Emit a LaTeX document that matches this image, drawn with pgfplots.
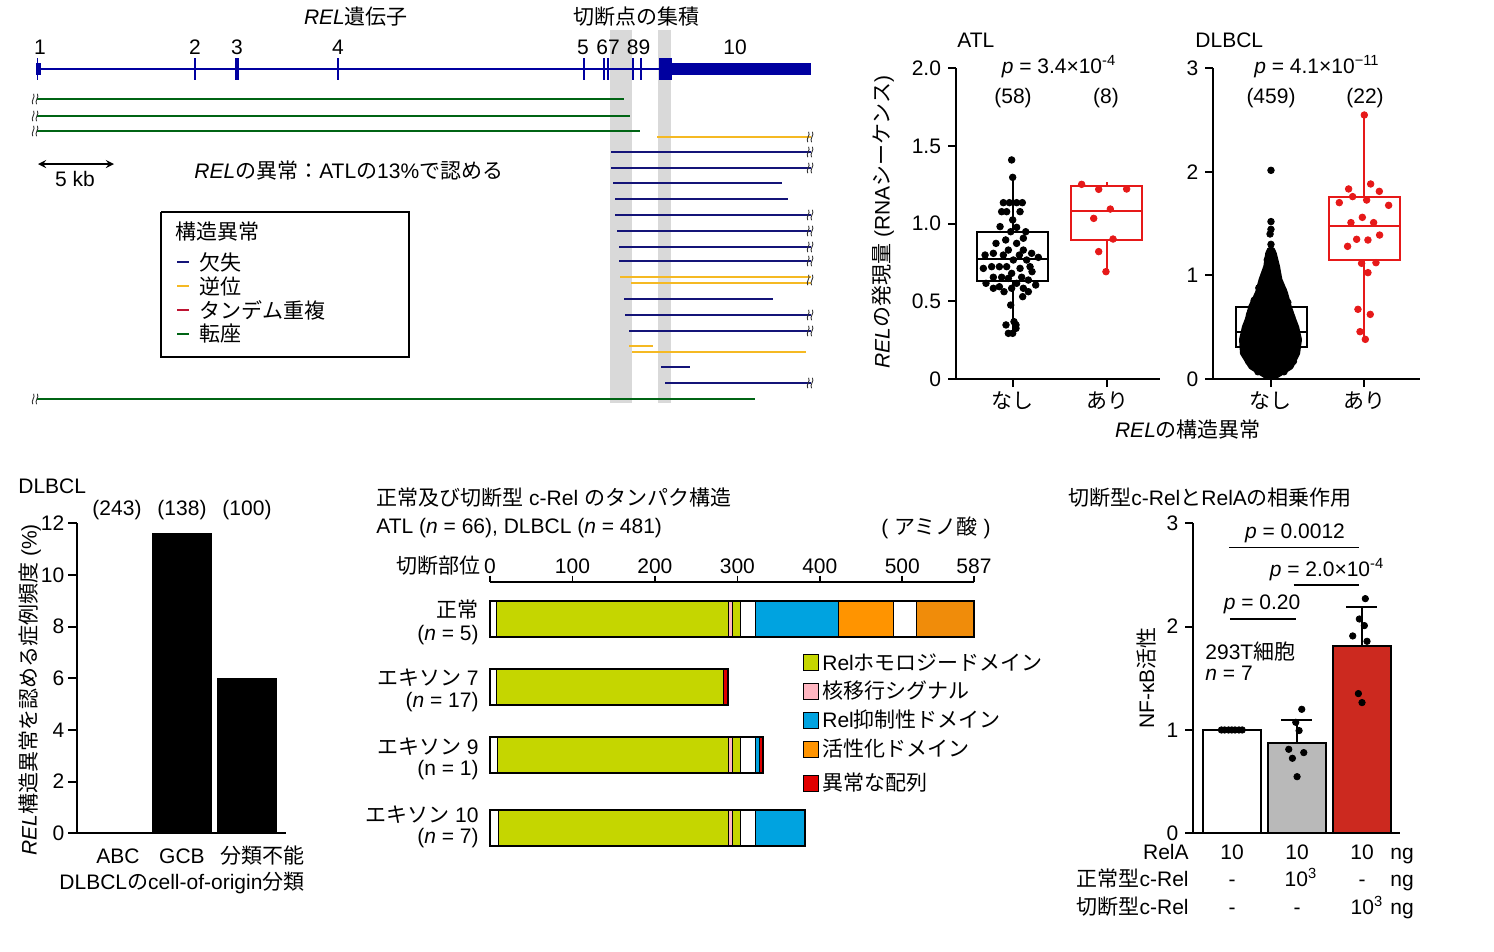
\documentclass[border=0pt]{standalone}
\usepackage{fontspec}
\setmainfont{Liberation Sans}
\newfontfamily\jp{Noto Sans CJK JP}
\usepackage{pgfplots}
\pgfplotsset{compat=1.18}
\newcommand\fs{\fontsize{10.5}{12.6}\selectfont}
\definecolor{geneblue}{RGB}{0,0,160}
\definecolor{navy}{RGB}{20,20,120}
\definecolor{inv}{RGB}{245,185,35}
\definecolor{trans}{RGB}{0,100,20}
\definecolor{tand}{RGB}{190,20,50}
\definecolor{bandgray}{RGB}{217,217,217}
\definecolor{boxred}{RGB}{230,25,25}
\definecolor{relgreen}{RGB}{197,214,0}
\definecolor{nlspink}{RGB}{255,182,193}
\definecolor{inhblue}{RGB}{0,163,224}
\definecolor{actor}{RGB}{255,148,0}
\definecolor{actor2}{RGB}{240,140,10}
\definecolor{abnred}{RGB}{225,0,0}
\definecolor{barred}{RGB}{204,41,31}
\definecolor{bargray}{RGB}{185,185,185}
\pgfdeclareplotmark{brk}{%
  \pgfpathmoveto{\pgfqpoint{-1.6pt}{-2.6pt}}%
  \pgfpathcurveto{\pgfqpoint{-2.8pt}{-0.9pt}}{\pgfqpoint{-0.1pt}{0.9pt}}{\pgfqpoint{-1.2pt}{2.6pt}}%
  \pgfpathmoveto{\pgfqpoint{0.3pt}{-2.6pt}}%
  \pgfpathcurveto{\pgfqpoint{-0.9pt}{-0.9pt}}{\pgfqpoint{1.8pt}{0.9pt}}{\pgfqpoint{0.7pt}{2.6pt}}%
  \pgfusepathqstroke}
\pgfplotsset{
  boxax/.style={scale only axis, anchor=south west, axis x line*=bottom, axis y line*=left,
    tick align=outside, major tick length=4pt, axis line style={line width=1pt},
    tick style={line width=1pt, black}, clip=false,
    /pgf/number format/assume math mode=true, tick label style={font=\fs}},
  sl/.style={line width=1pt},
}
\newcommand\seg[5]{\addplot[fill=#5, draw=black, line width=0.4pt] coordinates {(#1,-#3)(#2,-#3)(#2,-#4)(#1,-#4)} --cycle;}
\newcommand\outl[3]{\addplot[draw=black, line width=1pt] coordinates {(0,-#2)(#1,-#2)(#1,-#3)(0,-#3)} --cycle;}
\begin{document}
\begin{tikzpicture}[font=\fs, tr/.style={text height=1.6ex, text depth=0.3ex, inner sep=0pt}]
\path[use as bounding box] (0pt,0pt) rectangle (747pt,-476pt);

%================ gene panel ================
\begin{axis}[at={(0pt,-210pt)}, anchor=south west, scale only axis, width=415pt, height=210pt,
  xmin=0, xmax=830, ymin=0, ymax=420, y dir=reverse, hide axis, clip=false]
\addplot[fill=bandgray, draw=none] coordinates {(609.6,30)(631.7,30)(631.7,403)(609.6,403)} --cycle;
\addplot[fill=bandgray, draw=none] coordinates {(658.1,30)(671.3,30)(671.3,403)(658.1,403)} --cycle;
% gene
\addplot[geneblue, line width=1pt] coordinates {(37,69)(811,69)};
\addplot[fill=geneblue, draw=none] coordinates {(36,62.7)(41,62.7)(41,75)(36,75)} --cycle;
\addplot[geneblue, line width=0.8pt] coordinates {(37.5,58)(37.5,80)};
\addplot[geneblue, line width=1.1pt] coordinates {(195,58)(195,80)};
\addplot[geneblue, line width=2.2pt] coordinates {(237,58)(237,80)};
\addplot[geneblue, line width=1.1pt] coordinates {(338,58)(338,80)};
\addplot[geneblue, line width=1.1pt] coordinates {(584,58)(584,80)};
\addplot[geneblue, line width=1.1pt] coordinates {(604,58)(604,80)};
\addplot[geneblue, line width=1.1pt] coordinates {(608,58)(608,80)};
\addplot[geneblue, line width=1.1pt] coordinates {(633,58)(633,80)};
\addplot[geneblue, line width=1.1pt] coordinates {(641,58)(641,80)};
\addplot[fill=geneblue, draw=none] coordinates {(659.3,58.3)(671.7,58.3)(671.7,80)(659.3,80)} --cycle;
\addplot[fill=geneblue, draw=none] coordinates {(671.7,62.7)(811,62.7)(811,75)(671.7,75)} --cycle;
% structural variants
\addplot[trans, sl] coordinates {(37,99)(624,99)};
\addplot[trans, sl] coordinates {(37,116)(630,116)};
\addplot[trans, sl] coordinates {(37,131)(640,131)};
\addplot[inv, sl] coordinates {(657,137)(811,137)};
\addplot[navy, sl] coordinates {(611,152)(811,152)};
\addplot[navy, sl] coordinates {(611,168)(811,168)};
\addplot[navy, sl] coordinates {(613,183)(782,183)};
\addplot[navy, sl] coordinates {(615,199)(788,199)};
\addplot[navy, sl] coordinates {(615,215)(811,215)};
\addplot[navy, sl] coordinates {(617,231)(811,231)};
\addplot[navy, sl] coordinates {(619,247)(811,247)};
\addplot[navy, sl] coordinates {(619,261)(811,261)};
\addplot[inv, sl] coordinates {(620,277)(811,277)};
\addplot[inv, sl] coordinates {(631,283)(811,283)};
\addplot[navy, sl] coordinates {(624,299)(773,299)};
\addplot[navy, sl] coordinates {(625,315)(811,315)};
\addplot[navy, sl] coordinates {(629,331)(811,331)};
\addplot[inv, sl] coordinates {(629,346)(653,346)};
\addplot[inv, sl] coordinates {(632,352)(806,352)};
\addplot[navy, sl] coordinates {(661,367)(690,367)};
\addplot[navy, sl] coordinates {(665,383)(811,383)};
\addplot[trans, sl] coordinates {(37,399)(755,399)};
% break marks
\addplot[only marks, mark=brk, mark options={black!80, line width=0.45pt}] coordinates {
 (811,137)(811,152)(811,168)(811,215)(811,231)(811,247)(811,261)(811,280)(811,315)(811,331)(811,383)
 (36,99)(36,116)(36,131)(36,399)};
% scale bar
\addplot[black, line width=0.8pt, <->, >=stealth] coordinates {(38,164)(114,164)};
% legend
\addplot[black, line width=0.7pt] coordinates {(161,212)(409,212)(409,357)(161,357)(161,212)};
\addplot[navy, sl] coordinates {(177,262)(189,262)};
\addplot[inv, sl] coordinates {(177,286)(189,286)};
\addplot[tand, sl] coordinates {(177,310)(189,310)};
\addplot[trans, sl] coordinates {(177,334)(189,334)};
\end{axis}

%================ ATL box plot ================
\begin{axis}[boxax, at={(478pt,-189.5pt)}, width=102pt, height=155.35pt,
  xmin=0.399, xmax=2.562, ymin=0, ymax=2, ytick={0,0.5,1,1.5,2}, yticklabels={0,0.5,1.0,1.5,2.0},
  xtick={1,2}, xticklabels={{\jp なし},{\jp あり}}, xticklabel style={yshift=1pt}]
\addplot[black, line width=1pt] coordinates {(1,0.294)(1,0.633)};
\addplot[black, line width=1pt] coordinates {(1,0.948)(1,1.30)};
\addplot[black, line width=1pt] coordinates {(0.618,0.633)(1.378,0.633)(1.378,0.948)(0.618,0.948)} --cycle;
\addplot[black, line width=1pt] coordinates {(0.618,0.773)(1.378,0.773)};
\addplot[boxred, line width=1pt] coordinates {(2,1.245)(2,1.27)};
\addplot[boxred, line width=1pt] coordinates {(2,0.691)(2,0.897)};
\addplot[boxred, line width=1pt] coordinates {(1.618,0.897)(2.374,0.897)(2.374,1.245)(1.618,1.245)} --cycle;
\addplot[boxred, line width=1pt] coordinates {(1.618,1.082)(2.374,1.082)};
\addplot[only marks, mark=*, mark size=1.65pt, black] coordinates {
(0.989,1.410)(1,1.298)(0.901,1.135)(0.965,1.135)(1.042,1.135)(1.102,1.135)
(0.883,1.077)(0.936,1.077)(1.078,1.077)(1,1.024)(0.866,0.981)(1.042,0.976)
(0.979,0.948)(1.138,0.948)(1.113,0.906)(0.926,0.895)(0.823,0.873)(1.042,0.873)
(0.954,0.830)(1.113,0.830)(0.795,0.809)(1.201,0.809)(0.707,0.798)(0.901,0.798)
(1.071,0.798)(1.272,0.783)(1.007,0.766)(1.148,0.766)(0.777,0.723)(0.859,0.723)
(0.936,0.723)(1.184,0.723)(0.689,0.712)(1.078,0.712)(1.205,0.691)(0.989,0.680)
(0.795,0.655)(0.883,0.655)(1.095,0.655)(0.954,0.648)(1.166,0.637)(0.717,0.616)
(1.042,0.616)(1.244,0.605)(0.859,0.594)(0.795,0.584)(0.989,0.584)(1.113,0.584)
(0.908,0.562)(1.166,0.562)(1.106,0.530)(0.979,0.476)(1.014,0.369)(0.929,0.348)
(1.035,0.348)(1.035,0.326)(0.954,0.294)(1,0.294)};
\addplot[only marks, mark=*, mark size=1.65pt, boxred] coordinates {
(1.731,1.253)(1.912,1.221)(2.208,1.223)(2.035,1.094)(1.859,1.034)(2.064,0.901)(1.912,0.820)(1.989,0.691)};
\end{axis}

%================ DLBCL box plot ================
\begin{axis}[boxax, at={(606.65pt,-189.5pt)}, width=103.35pt, height=155.35pt,
  xmin=0.382, xmax=2.597, ymin=0, ymax=3, ytick={0,1,2,3},
  xtick={1,2}, xticklabels={{\jp なし},{\jp あり}}, xticklabel style={yshift=1pt}]
\addplot[black, line width=1pt] coordinates {(0.625,0.312)(1.382,0.312)(1.382,0.698)(0.625,0.698)} --cycle;
\addplot[black, line width=1pt] coordinates {(0.625,0.457)(1.382,0.457)};
\addplot[fill=black, draw=black, line width=3pt, line join=round] coordinates {
(0.95,0.03)(1.05,0.03)(1.21,0.12)(1.28,0.25)(1.30,0.38)(1.27,0.50)(1.24,0.57)(1.19,0.70)
(1.15,0.83)(1.09,0.96)(1.065,1.085)(1.03,1.21)(1.01,1.25)(0.99,1.25)(0.97,1.21)(0.95,1.085)
(0.90,0.96)(0.86,0.83)(0.79,0.70)(0.75,0.57)(0.72,0.50)(0.69,0.38)(0.70,0.25)(0.79,0.12)} --cycle;
\addplot[only marks, mark=*, mark size=1.65pt, black] coordinates {
(1,1.30)(0.99,1.40)(1,1.445)(1,1.52)(1,2.015)(0.96,1.15)(1.04,1.10)(0.93,1.0)(1.07,0.98)
(0.87,0.88)(1.13,0.86)(0.82,0.76)(1.18,0.74)(0.77,0.62)(1.22,0.60)(0.72,0.44)(1.27,0.42)
(0.71,0.30)(1.27,0.29)(0.76,0.17)(1.24,0.17)(0.86,0.07)(1.14,0.07)};
\addplot[boxred, line width=1pt] coordinates {(2,1.761)(2,2.549)};
\addplot[boxred, line width=1pt] coordinates {(2,0.383)(2,1.149)};
\addplot[boxred, line width=1pt] coordinates {(1.625,1.149)(2.382,1.149)(2.382,1.761)(1.625,1.761)} --cycle;
\addplot[boxred, line width=1pt] coordinates {(1.625,1.477)(2.382,1.477)};
\addplot[only marks, mark=*, mark size=1.65pt, boxred] coordinates {
(2,2.549)(2.068,1.883)(1.832,1.835)(2.161,1.812)(1.875,1.761)(2.025,1.728)(1.732,1.703)
(2.261,1.677)(1.979,1.561)(1.857,1.510)(2.1,1.510)(2.164,1.390)(1.918,1.349)(2.039,1.342)
(1.821,1.281)(1.971,1.117)(2.125,1.123)(2.039,1.027)(1.932,0.673)(2.064,0.624)(1.954,0.457)(2.011,0.383)};
\end{axis}

%================ DLBCL COO bar chart ================
\begin{axis}[boxax, at={(38.65pt,-416.65pt)}, width=104.35pt, height=155pt,
  xmin=-0.618, xmax=2.61, ymin=0, ymax=12, ytick={0,2,4,6,8,10,12},
  xtick=\empty, major tick length=4.5pt, yticklabel style={xshift=1.5pt}]
\addplot[ybar, bar width=0.911, bar shift=0pt, fill=black, draw=black] coordinates {(1,11.59)(2,6.01)};
\end{axis}

%================ protein structure ================
\begin{axis}[at={(245pt,-425pt)}, anchor=south west, scale only axis, width=242pt, height=134.15pt,
  xmin=0, xmax=587, ymin=-850, ymax=-581.7, axis x line*=top, axis y line=none,
  xtick={0,100,200,300,400,500,587}, tick align=outside, major tick length=3pt,
  axis line style={line width=0.8pt}, tick style={line width=0.8pt, black},
  xticklabel style={yshift=-2.5pt},
  /pgf/number format/assume math mode=true, tick label style={font=\fs}, clip=false]
% normal
\seg{0}{8}{600.7}{636.7}{white}
\seg{8}{289.5}{600.7}{636.7}{relgreen}
\seg{289.5}{293.5}{600.7}{636.7}{nlspink}
\seg{293.5}{303.7}{600.7}{636.7}{relgreen}
\seg{303.7}{322.1}{600.7}{636.7}{white}
\seg{322.1}{422.4}{600.7}{636.7}{inhblue}
\seg{422.4}{488.8}{600.7}{636.7}{actor}
\seg{488.8}{516.9}{600.7}{636.7}{white}
\seg{516.9}{587}{600.7}{636.7}{actor2}
\outl{587}{600.7}{636.7}
% exon 7
\seg{0}{8}{668.7}{705.3}{white}
\seg{8}{283}{668.7}{705.3}{relgreen}
\seg{283}{289.2}{668.7}{705.3}{abnred}
\outl{289.2}{668.7}{705.3}
% exon 9
\seg{0}{9}{736.7}{773.3}{white}
\seg{9}{289.5}{736.7}{773.3}{relgreen}
\seg{289.5}{293.5}{736.7}{773.3}{nlspink}
\seg{293.5}{303.7}{736.7}{773.3}{relgreen}
\seg{303.7}{321.5}{736.7}{773.3}{white}
\seg{321.5}{326.4}{736.7}{773.3}{inhblue}
\seg{326.4}{330.7}{736.7}{773.3}{abnred}
\outl{330.7}{736.7}{773.3}
% exon 10
\seg{0}{10}{810}{846}{white}
\seg{10}{289.5}{810}{846}{relgreen}
\seg{289.5}{293.5}{810}{846}{nlspink}
\seg{293.5}{303.7}{810}{846}{relgreen}
\seg{303.7}{322}{810}{846}{white}
\seg{322}{382}{810}{846}{inhblue}
\outl{382}{810}{846}
% legend squares
\seg{380.3}{397.7}{654.7}{670.7}{relgreen}
\seg{380.3}{397.7}{683}{699}{nlspink}
\seg{380.3}{397.7}{712}{728}{inhblue}
\seg{380.3}{397.7}{741.3}{757.3}{actor}
\seg{380.3}{397.7}{775.3}{791.3}{abnred}
\end{axis}

%================ NF-kB bar chart ================
\begin{axis}[boxax, at={(596.65pt,-416.65pt)}, width=103.35pt, height=155pt,
  xmin=-0.593, xmax=2.59, ymin=0, ymax=3, ytick={0,1,2,3}, xtick=\empty]
\addplot[ybar, bar width=0.892, bar shift=0pt, fill=white, draw=black, line width=1pt] coordinates {(0,1)};
\addplot[ybar, bar width=0.892, bar shift=0pt, fill=bargray, draw=black, line width=1pt] coordinates {(1,0.874)};
\addplot[ybar, bar width=0.892, bar shift=0pt, fill=barred, draw=black, line width=1pt] coordinates {(2,1.816)};
\addplot[black, line width=1pt] coordinates {(1,0.874)(1,1.097)};
\addplot[black, line width=1pt] coordinates {(0.76,1.097)(1.24,1.097)};
\addplot[black, line width=1pt] coordinates {(2,1.816)(2,2.194)};
\addplot[black, line width=1pt] coordinates {(1.76,2.194)(2.24,2.194)};
\addplot[only marks, mark=*, mark size=1.6pt, black] coordinates {
(-0.16,1)(-0.11,1)(-0.05,1)(0,1)(0.05,1)(0.11,1)(0.16,1)
(1.077,1.2)(0.985,1.074)(1.036,0.994)(0.877,0.813)(1.108,0.781)(0.933,0.726)(1.005,0.548)
(2.056,2.271)(1.964,2.074)(2.041,2.010)(1.862,1.910)(2.082,1.858)(1.949,1.352)(2.005,1.265)};
\addplot[black, line width=0.9pt] coordinates {(-0.04,2.765)(1.96,2.765)};
\addplot[black, line width=0.9pt] coordinates {(0.95,2.401)(1.96,2.401)};
\addplot[black, line width=0.9pt] coordinates {(-0.03,2.072)(0.99,2.072)};
\end{axis}

%================ texts ================
\begin{scope}[x=0.5pt, y=-0.5pt]
% gene panel
\node at (356,17) {\textit{REL}{\jp 遺伝子}};
\node at (636,17) {\jp 切断点の集積};
\node at (40,47) {1};
\node at (195,47) {2};
\node at (237,47) {3};
\node at (338,47) {4};
\node at (583,47) {5};
\node at (608,47) {67};
\node at (638.5,47) {89};
\node at (735,47) {10};
\node at (75,179) {5 kb};
\node[anchor=west, inner sep=0pt] at (194,171) {\textit{REL}{\jp の異常：}ATL{\jp の}13\%{\jp で認める}};
\node[anchor=west, inner sep=0pt] at (175,232) {\jp 構造異常};
\node[anchor=west, inner sep=0pt] at (199,262) {\jp 欠失};
\node[anchor=west, inner sep=0pt] at (199,286) {\jp 逆位};
\node[anchor=west, inner sep=0pt] at (199,310) {\jp タンデム重複};
\node[anchor=west, inner sep=0pt] at (199,334) {\jp 転座};
% box plots
\node[anchor=west, inner sep=0pt] at (957,40) {ATL};
\node[anchor=west, inner sep=0pt] at (1195,40) {DLBCL};
\node at (1059,67) {\textit{p} = 3.4×10\textsuperscript{-4}};
\node at (1013,98) {(58)};
\node at (1106,98) {(8)};
\node at (1317,67) {\textit{p} = 4.1×10\textsuperscript{−11}};
\node at (1271,98) {(459)};
\node at (1365,98) {(22)};
\node[rotate=90] at (883,222) {\textit{REL}{\jp の発現量} (RNA{\jp シーケンス})};
\node at (1188,430) {\textit{REL}{\jp の構造異常}};
% COO bar chart
\node[anchor=west, inner sep=0pt] at (18,486) {DLBCL};
\node at (117,510) {(243)};
\node at (182,510) {(138)};
\node at (247,510) {(100)};
\node[rotate=90] at (30,690) {\textit{REL}{\jp 構造異常を認める症例頻度} (\%)};
\node at (118,856) {ABC};
\node at (182,856) {GCB};
\node at (262,856) {\jp 分類不能};
\node at (182,883) {DLBCL{\jp の}cell-of-origin{\jp 分類}};
% protein
\node[anchor=west, inner sep=0pt] at (376,498) {{\jp 正常及び切断型} c-Rel {\jp のタンパク構造}};
\node[anchor=west, inner sep=0pt] at (376,528) {ATL (\textit{n} = 66), DLBCL (\textit{n} = 481)};
\node at (936,528) {( {\jp アミノ酸} )};
\node[anchor=east, inner sep=0pt] at (481,566) {\jp 切断部位};
\node[anchor=east, inner sep=0pt] at (479,610) {\jp 正常};
\node[anchor=east, inner sep=0pt] at (479,635) {(\textit{n} = 5)};
\node[anchor=east, inner sep=0pt] at (479,678) {{\jp エキソン} 7};
\node[anchor=east, inner sep=0pt] at (479,702) {(\textit{n} = 17)};
\node[anchor=east, inner sep=0pt] at (479,747) {{\jp エキソン} 9};
\node[anchor=east, inner sep=0pt] at (479,770) {(n = 1)};
\node[anchor=east, inner sep=0pt] at (479,815) {{\jp エキソン} 10};
\node[anchor=east, inner sep=0pt] at (479,838) {(\textit{n} = 7)};
\node[anchor=west, inner sep=0pt] at (822,663) {Rel{\jp ホモロジードメイン}};
\node[anchor=west, inner sep=0pt] at (822,691) {\jp 核移行シグナル};
\node[anchor=west, inner sep=0pt] at (822,720) {Rel{\jp 抑制性ドメイン}};
\node[anchor=west, inner sep=0pt] at (822,749) {\jp 活性化ドメイン};
\node[anchor=west, inner sep=0pt] at (822,783) {\jp 異常な配列};
% NF-kB chart
\node[anchor=west, inner sep=0pt] at (1068,498) {{\jp 切断型}c-Rel{\jp と}RelA{\jp の相乗作用}};
\node[rotate=90] at (1146,678) {NF-κB{\jp 活性}};
\node[anchor=west, inner sep=0pt] at (1205,652) {293T{\jp 細胞}};
\node[anchor=west, inner sep=0pt] at (1205,673) {\textit{n} = 7};
\node at (1295,533) {\textit{p} = 0.0012};
\node at (1327,570) {\textit{p} = 2.0×10\textsuperscript{-4}};
\node at (1262,604) {\textit{p} = 0.20};
\node[tr, anchor=east] at (1189,853) {RelA};
\node[tr, anchor=east] at (1189,880) {{\jp 正常型}c-Rel};
\node[tr, anchor=east] at (1189,908) {{\jp 切断型}c-Rel};
\node[tr] at (1232,853) {10};
\node[tr] at (1297,853) {10};
\node[tr] at (1362,853) {10};
\node[tr] at (1232,880) {-};
\node[tr] at (1301,880) {10\textsuperscript{3}};
\node[tr] at (1362,880) {-};
\node[tr] at (1232,908) {-};
\node[tr] at (1297,908) {-};
\node[tr] at (1367,908) {10\textsuperscript{3}};
\node[tr] at (1402,853) {ng};
\node[tr] at (1402,880) {ng};
\node[tr] at (1402,908) {ng};
\end{scope}
\end{tikzpicture}
\end{document}
